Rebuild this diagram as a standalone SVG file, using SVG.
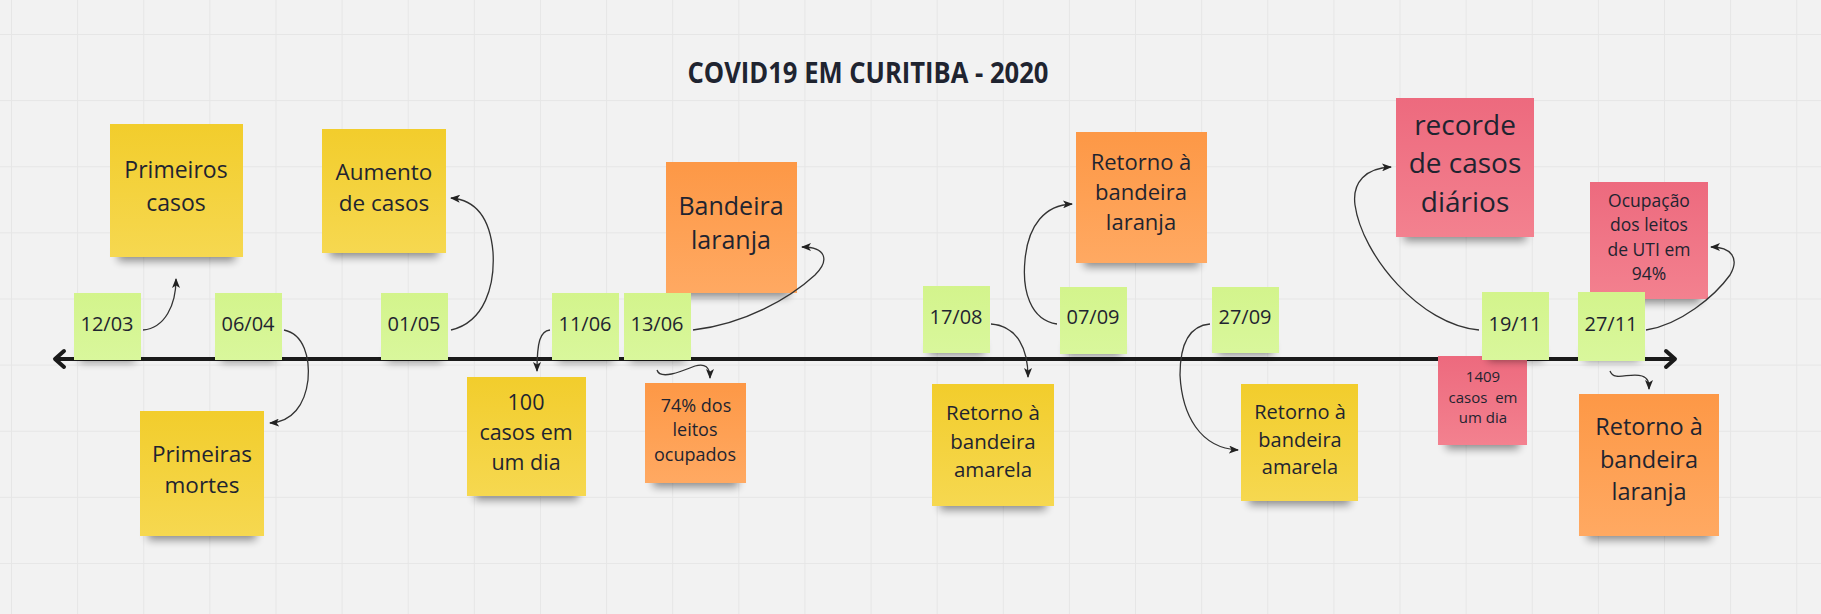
<svg xmlns="http://www.w3.org/2000/svg" width="1821" height="614" viewBox="0 0 1821 614">
<defs>
<pattern id="grid" x="11" y="34" width="66.12" height="66.12" patternUnits="userSpaceOnUse">
<path d="M0,0.5 H66.12 M0.5,0 V66.12" stroke="#e6e6e6" stroke-width="1" fill="none"/>
</pattern>
<linearGradient id="gY" x1="0" y1="0" x2="0" y2="1"><stop offset="0" stop-color="#f2cd2c"/><stop offset="1" stop-color="#f6d850"/></linearGradient>
<linearGradient id="gO" x1="0" y1="0" x2="0" y2="1"><stop offset="0" stop-color="#fd9846"/><stop offset="1" stop-color="#ffa962"/></linearGradient>
<linearGradient id="gP" x1="0" y1="0" x2="0" y2="1"><stop offset="0" stop-color="#ed6a7e"/><stop offset="1" stop-color="#f3818f"/></linearGradient>
<linearGradient id="gG" x1="0" y1="0" x2="0" y2="1"><stop offset="0" stop-color="#d3f48c"/><stop offset="1" stop-color="#d9f79c"/></linearGradient>
<filter id="blur" x="-30%" y="-100%" width="160%" height="300%"><feGaussianBlur stdDeviation="4"/></filter>
<marker id="arr" markerUnits="userSpaceOnUse" markerWidth="10" markerHeight="8" refX="9" refY="4" orient="auto">
<path d="M0,0 L10,4 L0,8 L2.5,4 z" fill="#222"/>
</marker>
</defs>
<style>
.sh{fill:#000;opacity:.42;filter:url(#blur)}
.y{fill:url(#gY)}
.o{fill:url(#gO)}
.p{fill:url(#gP)}
.g{fill:url(#gG)}
text{font-family:"Open Sans","Noto Sans","Liberation Sans",sans-serif;fill:#1f2430;text-anchor:middle}
.d{font-size:20px}
.c{fill:none;stroke:#333;stroke-width:1.3;marker-end:url(#arr)}
</style>
<rect width="1821" height="614" fill="#f2f2f2"/>
<rect width="1821" height="614" fill="url(#grid)"/>

<text x="868" y="83" style="font-size:28px;font-weight:700" textLength="361" lengthAdjust="spacingAndGlyphs">COVID19 EM CURITIBA - 2020</text>

<g id="axis" fill="none" stroke="#1a1a1a" stroke-width="4" stroke-linecap="round" stroke-linejoin="round">
<path d="M56,359 H1674"/>
<path d="M64,351 L55,359 L64,367"/>
<path d="M1666,351 L1675,359 L1666,367"/>
</g>

<g id="primeiros-casos"><rect class="sh" x="118" y="247" width="117" height="14"/><rect class="y" x="110" y="124" width="133" height="133"/><text style="font-size:23px"><tspan x="176" y="178">Primeiros</tspan><tspan x="176" y="211">casos</tspan></text></g>
<g id="aumento-casos"><rect class="sh" x="330" y="243" width="108" height="14"/><rect class="y" x="322" y="129" width="124" height="124"/><text style="font-size:22.5px"><tspan x="384" y="180">Aumento</tspan><tspan x="384" y="211">de casos</tspan></text></g>
<g id="primeiras-mortes"><rect class="sh" x="148" y="526" width="108" height="14"/><rect class="y" x="140" y="411" width="124" height="125"/><text style="font-size:22.5px"><tspan x="202" y="462">Primeiras</tspan><tspan x="202" y="493">mortes</tspan></text></g>
<g id="cem-casos"><rect class="sh" x="475" y="486" width="103" height="14"/><rect class="y" x="467" y="377" width="119" height="119"/><text style="font-size:21.5px"><tspan x="526" y="410">100</tspan><tspan x="526" y="440">casos em</tspan><tspan x="526" y="470">um dia</tspan></text></g>
<g id="bandeira-laranja"><rect class="sh" x="674" y="283" width="115" height="14"/><rect class="o" x="666" y="162" width="131" height="131"/><text style="font-size:25px"><tspan x="731" y="215">Bandeira</tspan><tspan x="731" y="249">laranja</tspan></text></g>
<g id="leitos-74"><rect class="sh" x="653" y="473" width="85" height="14"/><rect class="o" x="645" y="383" width="101" height="100"/><text style="font-size:18px"><tspan x="696" y="412">74% dos</tspan><tspan x="695" y="436">leitos</tspan><tspan x="695" y="461">ocupados</tspan></text></g>
<g id="retorno-laranja-1"><rect class="sh" x="1084" y="253" width="115" height="14"/><rect class="o" x="1076" y="132" width="131" height="131"/><text style="font-size:22px"><tspan x="1141" y="170">Retorno à</tspan><tspan x="1141" y="200">bandeira</tspan><tspan x="1141" y="230">laranja</tspan></text></g>
<g id="retorno-amarela-1"><rect class="sh" x="940" y="496" width="106" height="14"/><rect class="y" x="932" y="384" width="122" height="122"/><text style="font-size:20.5px"><tspan x="993" y="420">Retorno à</tspan><tspan x="993" y="449">bandeira</tspan><tspan x="993" y="477">amarela</tspan></text></g>
<g id="retorno-amarela-2"><rect class="sh" x="1249" y="491" width="101" height="14"/><rect class="y" x="1241" y="384" width="117" height="117"/><text style="font-size:20px"><tspan x="1300" y="419">Retorno à</tspan><tspan x="1300" y="447">bandeira</tspan><tspan x="1300" y="474">amarela</tspan></text></g>
<g id="recorde"><rect class="sh" x="1404" y="227" width="122" height="14"/><rect class="p" x="1396" y="98" width="138" height="139"/><text style="font-size:28px"><tspan x="1465" y="135">recorde</tspan><tspan x="1465" y="173">de casos</tspan><tspan x="1465" y="212">diários</tspan></text></g>
<g id="ocupacao-uti"><rect class="sh" x="1598" y="289" width="102" height="14"/><rect class="p" x="1590" y="182" width="118" height="117"/><text style="font-size:17.5px"><tspan x="1649" y="207">Ocupação</tspan><tspan x="1649" y="231">dos leitos</tspan><tspan x="1649" y="256">de UTI em</tspan><tspan x="1649" y="280">94%</tspan></text></g>
<g id="casos-1409"><rect class="sh" x="1446" y="435" width="73" height="14"/><rect class="p" x="1438" y="356" width="89" height="89"/><text style="font-size:15px"><tspan x="1483" y="382">1409</tspan><tspan x="1483" y="403" xml:space="preserve">casos  em</tspan><tspan x="1483" y="423">um dia</tspan></text></g>
<g id="retorno-laranja-2"><rect class="sh" x="1587" y="526" width="124" height="14"/><rect class="o" x="1579" y="394" width="140" height="142"/><text style="font-size:23.5px"><tspan x="1649" y="435">Retorno à</tspan><tspan x="1649" y="468">bandeira</tspan><tspan x="1649" y="500">laranja</tspan></text></g>

<g id="d1203"><rect class="sh" x="80" y="350" width="55" height="12"/><rect class="g" x="74" y="293" width="67" height="67"/><text class="d" x="107" y="331">12/03</text></g>
<g id="d0604"><rect class="sh" x="221" y="350" width="55" height="12"/><rect class="g" x="215" y="293" width="67" height="67"/><text class="d" x="248" y="331">06/04</text></g>
<g id="d0105"><rect class="sh" x="387" y="350" width="55" height="12"/><rect class="g" x="381" y="293" width="67" height="67"/><text class="d" x="414" y="331">01/05</text></g>
<g id="d1106"><rect class="sh" x="558" y="350" width="55" height="12"/><rect class="g" x="552" y="293" width="67" height="67"/><text class="d" x="585" y="331">11/06</text></g>
<g id="d1306"><rect class="sh" x="630" y="350" width="55" height="12"/><rect class="g" x="624" y="293" width="67" height="67"/><text class="d" x="657" y="331">13/06</text></g>
<g id="d1708"><rect class="sh" x="929" y="343" width="55" height="12"/><rect class="g" x="923" y="286" width="67" height="67"/><text class="d" x="956" y="324">17/08</text></g>
<g id="d0709"><rect class="sh" x="1066" y="344" width="55" height="12"/><rect class="g" x="1060" y="287" width="67" height="67"/><text class="d" x="1093" y="324">07/09</text></g>
<g id="d2709"><rect class="sh" x="1218" y="343" width="55" height="12"/><rect class="g" x="1212" y="287" width="67" height="66"/><text class="d" x="1245" y="324">27/09</text></g>
<g id="d1911"><rect class="sh" x="1488" y="349" width="55" height="12"/><rect class="g" x="1482" y="292" width="67" height="68"/><text class="d" x="1515" y="331">19/11</text></g>
<g id="d2711"><rect class="sh" x="1584" y="349" width="55" height="12"/><rect class="g" x="1578" y="292" width="67" height="69"/><text class="d" x="1611" y="331">27/11</text></g>

<g id="connectors">
<path class="c" d="M143,330 C165,328 176,305 176,279"/>
<path class="c" d="M451,330 C485,322 495,285 493,252 C490,218 476,200 451,198"/>
<path class="c" d="M284,330 C304,334 310,358 308,380 C305,405 292,422 270,423"/>
<path class="c" d="M550,330 C540,331 537,342 537,371"/>
<path class="c" d="M693,330 C745,324 790,298 815,275 C830,260 826,247 802,247"/>
<path class="c" d="M657,370 C660,380 680,372 695,366 C705,363 710,367 710,378"/>
<path class="c" d="M991,324 C1018,326 1028,350 1028,377"/>
<path class="c" d="M1057,324 C1030,320 1022,290 1025,260 C1028,225 1045,205 1072,204"/>
<path class="c" d="M1210,324 C1186,326 1180,350 1180,375 C1182,415 1200,448 1238,450"/>
<path class="c" d="M1479,330 C1420,325 1362,255 1355,205 C1352,182 1366,168 1391,167"/>
<path class="c" d="M1646,330 C1680,325 1715,296 1730,275 C1740,258 1731,247 1711,247"/>
<path class="c" d="M1610,371 C1614,382 1630,372 1642,376 C1648,378 1649,382 1649,389"/>
</g>
</svg>
